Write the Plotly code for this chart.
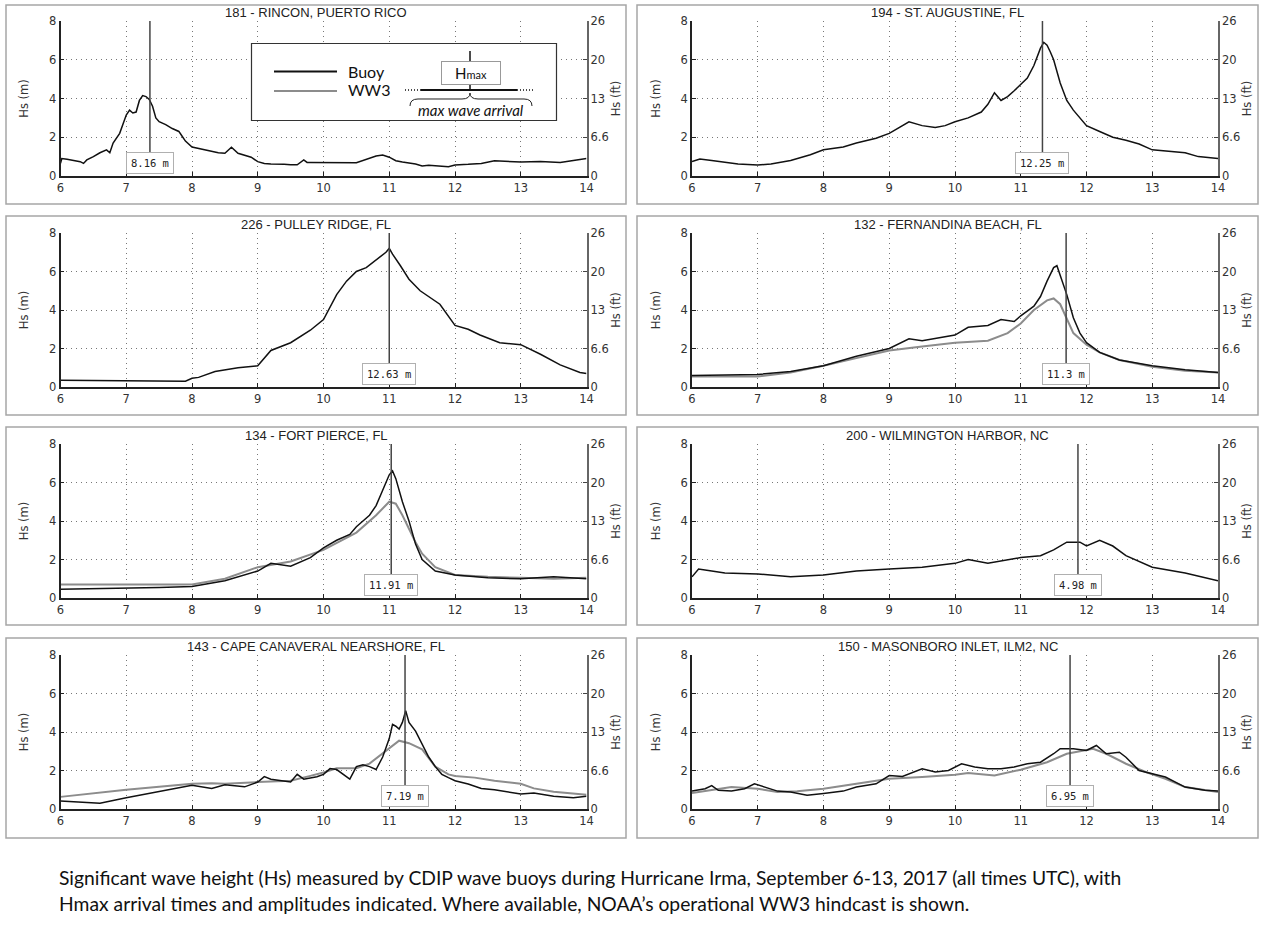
import plotly.graph_objects as go

W, H = 1265, 950

# ---------------- data ----------------
day_ticks = [6, 7, 8, 9, 10, 11, 12, 13, 14]
m_ticks = [0, 2, 4, 6, 8]
ft_labels = ["0", "6.6", "13", "20", "26"]

rincon_t = [6.0, 6.02, 6.1, 6.2, 6.3, 6.35, 6.4, 6.5, 6.6, 6.7, 6.75, 6.8, 6.9, 7.0, 7.05, 7.1, 7.15, 7.2, 7.25, 7.3,
            7.35, 7.4, 7.45, 7.5, 7.6, 7.7, 7.8, 7.85, 7.9, 8.0, 8.1, 8.2, 8.3, 8.4, 8.5, 8.6, 8.7, 8.8, 8.9, 9.0,
            9.1, 9.2, 9.3, 9.4, 9.5, 9.6, 9.7, 9.75, 9.8, 10.1, 10.5, 10.8, 10.9, 11.0, 11.1, 11.2, 11.4, 11.5, 11.6, 11.9,
            12.0, 12.2, 12.4, 12.6, 12.8, 13.0, 13.3, 13.6, 13.8, 14.0]
rincon_hs = [0.65, 0.9, 0.86, 0.8, 0.74, 0.65, 0.83, 1.0, 1.2, 1.35, 1.2, 1.7, 2.2, 3.15, 3.4, 3.25, 3.3, 3.9, 4.15, 4.1,
             3.95, 3.6, 3.0, 2.8, 2.65, 2.45, 2.3, 2.05, 1.8, 1.5, 1.43, 1.35, 1.28, 1.2, 1.17, 1.48, 1.17, 1.08, 0.97, 0.74,
             0.65, 0.62, 0.62, 0.6, 0.58, 0.58, 0.83, 0.7, 0.7, 0.69, 0.69, 1.03, 1.08, 0.97, 0.79, 0.72, 0.62, 0.52, 0.55, 0.48,
             0.57, 0.6, 0.65, 0.79, 0.74, 0.72, 0.75, 0.7, 0.8, 0.9]

staug_t = [6.0, 6.12, 6.3, 6.5, 6.7, 7.0, 7.2, 7.5, 7.8, 8.0, 8.3, 8.5, 8.8, 9.0, 9.15, 9.3, 9.5, 9.7, 9.85, 10.0,
           10.2, 10.4, 10.5, 10.6, 10.7, 10.8, 10.9, 11.0, 11.1, 11.2, 11.3, 11.35, 11.4, 11.45, 11.5, 11.6, 11.7, 11.8,
           11.9, 12.0, 12.2, 12.4, 12.6, 12.8, 13.0, 13.3, 13.5, 13.7, 14.0]
staug_hs = [0.75, 0.88, 0.8, 0.72, 0.62, 0.57, 0.62, 0.8, 1.1, 1.35, 1.5, 1.7, 1.95, 2.2, 2.5, 2.8, 2.6, 2.5, 2.6, 2.8,
            3.0, 3.3, 3.7, 4.3, 3.9, 4.1, 4.4, 4.7, 5.05, 5.7, 6.6, 6.9, 6.75, 6.4, 6.0, 4.8, 3.9, 3.4,
            3.0, 2.6, 2.3, 2.0, 1.85, 1.65, 1.35, 1.25, 1.2, 1.0, 0.9]

pulley_t = [6.0, 6.5, 7.0, 7.5, 7.9, 8.0, 8.1, 8.35, 8.7, 9.0, 9.2, 9.5, 9.8, 10.0, 10.2, 10.35, 10.5, 10.65, 10.8, 10.95,
            11.0, 11.05, 11.17, 11.3, 11.47, 11.6, 11.77, 12.0, 12.2, 12.38, 12.68, 13.0, 13.3, 13.6, 13.9, 14.0]
pulley_hs = [0.35, 0.33, 0.32, 0.3, 0.3, 0.45, 0.5, 0.8, 1.0, 1.1, 1.9, 2.3, 2.95, 3.5, 4.8, 5.5, 6.0, 6.2, 6.6, 7.0,
             7.2, 6.9, 6.3, 5.6, 5.0, 4.7, 4.3, 3.2, 3.0, 2.7, 2.3, 2.2, 1.7, 1.15, 0.75, 0.7]

fern_t = [6.0, 6.5, 7.0, 7.5, 8.0, 8.5, 9.0, 9.3, 9.5, 10.0, 10.2, 10.5, 10.7, 10.9, 11.0, 11.2, 11.3, 11.4, 11.5, 11.55,
          11.6, 11.7, 11.8, 11.9, 12.0, 12.2, 12.5, 13.0, 13.5, 14.0]
fern_hs = [0.6, 0.62, 0.65, 0.8, 1.1, 1.6, 2.0, 2.5, 2.4, 2.7, 3.1, 3.2, 3.5, 3.4, 3.7, 4.2, 4.7, 5.5, 6.2, 6.3,
           5.8, 4.8, 3.6, 2.8, 2.3, 1.8, 1.4, 1.1, 0.9, 0.75]
fern_ww3_t = [6.0, 7.0, 7.5, 8.0, 8.5, 9.0, 9.5, 10.0, 10.5, 10.8, 11.0, 11.2, 11.4, 11.5, 11.6, 11.7, 11.8, 12.0, 12.2,
              12.5, 13.0, 13.5, 14.0]
fern_ww3_hs = [0.55, 0.55, 0.75, 1.1, 1.5, 1.9, 2.1, 2.3, 2.4, 2.8, 3.3, 4.0, 4.5, 4.6, 4.3, 3.5, 2.8, 2.2, 1.8,
               1.4, 1.05, 0.85, 0.75]

fpierce_t = [6.0, 7.0, 7.5, 8.0, 8.5, 9.0, 9.2, 9.5, 9.8, 10.0, 10.2, 10.4, 10.5, 10.7, 10.8, 10.9, 11.0, 11.05, 11.1,
             11.2, 11.3, 11.4, 11.5, 11.7, 12.0, 12.5, 13.0, 13.5, 14.0]
fpierce_hs = [0.45, 0.5, 0.55, 0.6, 0.9, 1.4, 1.8, 1.65, 2.1, 2.6, 3.0, 3.3, 3.7, 4.3, 4.8, 5.6, 6.4, 6.6, 6.2,
              5.0, 4.0, 2.8, 2.0, 1.4, 1.2, 1.05, 1.0, 1.1, 1.0]
fpierce_ww3_t = [6.0, 7.0, 8.0, 8.5, 9.0, 9.5, 10.0, 10.5, 10.8, 11.0, 11.1, 11.2, 11.3, 11.4, 11.5, 11.7, 12.0, 12.5,
                 13.0, 13.5, 14.0]
fpierce_ww3_hs = [0.7, 0.7, 0.7, 1.0, 1.6, 1.9, 2.5, 3.4, 4.3, 5.0, 4.9, 4.3, 3.6, 2.9, 2.3, 1.6, 1.2, 1.1,
                  1.05, 1.0, 1.05]

wilm_t = [6.0, 6.1, 6.3, 6.5, 7.0, 7.5, 8.0, 8.5, 9.0, 9.5, 10.0, 10.2, 10.5, 11.0, 11.3, 11.5, 11.7, 11.9, 12.0, 12.2,
          12.4, 12.6, 13.0, 13.5, 14.0]
wilm_hs = [1.1, 1.5, 1.4, 1.3, 1.25, 1.1, 1.2, 1.4, 1.5, 1.6, 1.8, 2.0, 1.8, 2.1, 2.2, 2.5, 2.9, 2.9, 2.7, 3.0,
           2.7, 2.2, 1.6, 1.3, 0.9]

cape_t = [6.0, 6.5, 6.6, 7.0, 7.5, 7.8, 8.0, 8.3, 8.5, 8.8, 9.0, 9.1, 9.2, 9.5, 9.6, 9.7, 9.9, 10.0, 10.1, 10.2,
          10.3, 10.4, 10.5, 10.6, 10.7, 10.8, 10.9, 11.0, 11.05, 11.1, 11.15, 11.2, 11.25, 11.3, 11.4, 11.5, 11.6, 11.7,
          11.8, 11.9, 12.0, 12.2, 12.4, 12.6, 12.8, 13.0, 13.2, 13.5, 13.8, 14.0]
cape_hs = [0.42, 0.34, 0.3, 0.58, 0.9, 1.07, 1.23, 1.07, 1.26, 1.15, 1.4, 1.68, 1.55, 1.4, 1.8, 1.55, 1.68, 1.8, 2.1, 2.05,
           1.8, 1.55, 2.2, 2.3, 2.2, 2.05, 2.7, 3.66, 4.4, 4.3, 4.15, 4.5, 5.1, 4.5, 4.05, 3.4, 2.7, 2.2,
           1.8, 1.63, 1.47, 1.3, 1.07, 1.0, 0.87, 0.78, 0.83, 0.66, 0.58, 0.66]
cape_ww3_t = [6.0, 6.5, 7.0, 7.5, 8.0, 8.3, 8.5, 9.0, 9.5, 9.8, 10.0, 10.2, 10.5, 10.7, 11.0, 11.15, 11.3, 11.5, 11.7,
              11.9, 12.0, 12.3, 12.6, 13.0, 13.2, 13.5, 14.0]
cape_ww3_hs = [0.63, 0.83, 1.0, 1.15, 1.31, 1.34, 1.31, 1.4, 1.47, 1.72, 1.9, 2.12, 2.12, 2.36, 3.17, 3.55, 3.42, 3.1, 2.2,
               1.8, 1.72, 1.63, 1.47, 1.31, 1.07, 0.9, 0.74]

mason_t = [6.0, 6.2, 6.3, 6.4, 6.6, 6.8, 6.95, 7.1, 7.3, 7.5, 7.75, 8.0, 8.3, 8.5, 8.8, 9.0, 9.2, 9.5, 9.7, 9.9,
           10.1, 10.3, 10.5, 10.7, 10.9, 11.1, 11.3, 11.5, 11.6, 11.8, 12.0, 12.15, 12.3, 12.5, 12.6, 12.8, 13.0, 13.2,
           13.5, 13.8, 14.0]
mason_hs = [0.93, 1.05, 1.22, 0.97, 0.93, 1.05, 1.31, 1.14, 0.93, 0.88, 0.71, 0.8, 0.93, 1.14, 1.31, 1.74, 1.69, 2.09, 1.92, 2.0,
            2.35, 2.18, 2.09, 2.09, 2.18, 2.35, 2.43, 2.87, 3.13, 3.13, 3.04, 3.3, 2.87, 2.95, 2.69, 2.0, 1.83, 1.66,
            1.14, 0.97, 0.93]
mason_ww3_t = [6.0, 6.3, 6.6, 7.0, 7.3, 7.6, 8.0, 8.5, 9.0, 9.5, 10.0, 10.2, 10.6, 11.0, 11.4, 11.7, 12.0, 12.1, 12.3,
               12.6, 12.9, 13.2, 13.5, 14.0]
mason_ww3_hs = [0.83, 0.97, 1.14, 1.05, 0.88, 0.92, 1.05, 1.31, 1.57, 1.66, 1.78, 1.87, 1.74, 2.04, 2.43, 2.87, 3.04, 3.13, 2.87,
                2.35, 1.92, 1.57, 1.14, 0.88]

station_names = ["181 - RINCON, PUERTO RICO", "194 - ST. AUGUSTINE, FL",
                 "226 - PULLEY RIDGE, FL", "132 - FERNANDINA BEACH, FL",
                 "134 - FORT PIERCE, FL", "200 - WILMINGTON HARBOR, NC",
                 "143 - CAPE CANAVERAL NEARSHORE, FL", "150 - MASONBORO INLET, ILM2, NC"]
hmax_day = [7.36, 11.33, 11.0, 11.69, 11.03, 11.87, 11.24, 11.75]
hmax_label = ["8.16 m", "12.25 m", "12.63 m", "11.3 m", "11.91 m", "4.98 m", "7.19 m", "6.95 m"]
label_level = 0.68

buoy_series = [(rincon_t, rincon_hs), (staug_t, staug_hs), (pulley_t, pulley_hs), (fern_t, fern_hs),
               (fpierce_t, fpierce_hs), (wilm_t, wilm_hs), (cape_t, cape_hs), (mason_t, mason_hs)]
ww3_series = [None, None, None, (fern_ww3_t, fern_ww3_hs), (fpierce_ww3_t, fpierce_ww3_hs), None,
              (cape_ww3_t, cape_ww3_hs), (mason_ww3_t, mason_ww3_hs)]

caption_lines = ["Significant wave height (Hs) measured by CDIP wave buoys during Hurricane Irma, September 6-13, 2017 (all times UTC), with",
                 "Hmax arrival times and amplitudes indicated. Where available, NOAA\u2019s operational WW3 hindcast is shown."]

# ---------------- layout geometry (pixels) ----------------
col_x = [(60.5, 586.5), (692, 1218)]
row_y = [(21, 176), (233, 387), (444, 598), (655, 809)]
box_x = [(6, 626), (637, 1258)]
box_y = [(5, 204), (216, 415), (427, 625), (638, 838)]


def px(x):
    return x / W


def py(y):
    return 1 - y / H


TICK_FONT = dict(family="DejaVu Sans", size=11.5, color="#333")
AX_TITLE_FONT = dict(family="DejaVu Sans", size=11.5, color="#333")
BUOY_COLOR = "#111111"
WW3_COLOR = "#8c8c8c"
GRID_DASH = "1px,4px"

fig = go.Figure()
shapes = []
annotations = []
layout = {}

for i in range(8):
    r, c = divmod(i, 2)
    n = i + 1
    n2 = i + 9
    xa = "x" if n == 1 else f"x{n}"
    ya = "y" if n == 1 else f"y{n}"
    ya2 = f"y{n2}"

    # panel frame
    shapes.append(dict(type="rect", xref="paper", yref="paper", x0=px(box_x[c][0]), x1=px(box_x[c][1]),
                       y0=py(box_y[r][1]), y1=py(box_y[r][0]), line=dict(color="#a6a6a6", width=1.5),
                       layer="below"))

    t, hs = buoy_series[i]
    if ww3_series[i] is not None:
        wt, whs = ww3_series[i]
        fig.add_trace(go.Scatter(x=wt, y=whs, mode="lines", xaxis=xa, yaxis=ya, showlegend=False,
                                 line=dict(color=WW3_COLOR, width=2), hoverinfo="skip"))
    fig.add_trace(go.Scatter(x=t, y=hs, mode="lines", xaxis=xa, yaxis=ya, showlegend=False,
                             line=dict(color=BUOY_COLOR, width=1.5)))
    # empty trace to activate right-hand (ft) axis
    fig.add_trace(go.Scatter(x=[None], y=[None], xaxis=xa, yaxis=ya2, showlegend=False, hoverinfo="skip"))

    xdom = [px(col_x[c][0]), px(col_x[c][1])]
    ydom = [py(row_y[r][1]), py(row_y[r][0])]
    xkey = "xaxis" if n == 1 else f"xaxis{n}"
    ykey = "yaxis" if n == 1 else f"yaxis{n}"
    layout[xkey] = dict(domain=xdom, anchor=ya, range=[6, 14], tickvals=day_ticks, automargin=False,
                        showgrid=True, gridcolor="#777", griddash=GRID_DASH, gridwidth=1,
                        showline=True, linecolor="#222", linewidth=1.5, zeroline=False,
                        ticks="inside", ticklen=4, tickcolor="#222", tickfont=TICK_FONT,
                        fixedrange=True)
    layout[ykey] = dict(domain=ydom, anchor=xa, range=[0, 8], tickvals=m_ticks, automargin=False,
                        showgrid=True, gridcolor="#777", griddash=GRID_DASH, gridwidth=1,
                        showline=True, linecolor="#222", linewidth=1.5, zeroline=False,
                        ticks="inside", ticklen=4, tickcolor="#222", tickfont=TICK_FONT,
                        title=dict(text="Hs (m)", font=AX_TITLE_FONT, standoff=18),
                        fixedrange=True)
    layout[f"yaxis{n2}"] = dict(overlaying=ya, anchor=xa, side="right", range=[0, 8], tickvals=m_ticks,
                                ticktext=ft_labels, showgrid=False, zeroline=False, automargin=False,
                                showline=True, linecolor="#666", linewidth=1.5,
                                ticks="inside", ticklen=4, tickcolor="#444", tickfont=TICK_FONT,
                                title=dict(text="Hs (ft)", font=AX_TITLE_FONT, standoff=4),
                                fixedrange=True)

    # station title
    annotations.append(dict(xref="paper", yref="paper", x=px((box_x[c][0] + box_x[c][1]) / 2),
                            y=py(row_y[r][0] - 9), text=station_names[i], showarrow=False,
                            xanchor="center", yanchor="middle",
                            font=dict(family="Liberation Sans Narrow, Liberation Sans, Arial, sans-serif", size=13,
                                      color="#222")))
    # Hmax marker line + label
    shapes.append(dict(type="line", xref=xa, yref=ya, x0=hmax_day[i], x1=hmax_day[i], y0=label_level, y1=8,
                       line=dict(color="#444", width=1.5), layer="above"))
    annotations.append(dict(xref=xa, yref=ya, x=hmax_day[i], y=label_level, text=hmax_label[i], showarrow=False,
                            xanchor="center", yanchor="middle", bgcolor="white", bordercolor="#b0b0b0",
                            borderwidth=1, borderpad=4,
                            font=dict(family="DejaVu Sans Mono", size=10.5, color="#222")))

# ---------------- legend inset (panel 1) ----------------
shapes.append(dict(type="rect", xref="paper", yref="paper", x0=px(251.5), x1=px(556.5), y0=py(120.5), y1=py(43.5),
                   line=dict(color="#333", width=1.2), fillcolor="white", layer="above"))
shapes.append(dict(type="line", xref="paper", yref="paper", x0=px(274), x1=px(337), y0=py(71.5), y1=py(71.5),
                   line=dict(color=BUOY_COLOR, width=1.8), layer="above"))
shapes.append(dict(type="line", xref="paper", yref="paper", x0=px(274), x1=px(337), y0=py(91), y1=py(91),
                   line=dict(color=WW3_COLOR, width=2), layer="above"))
LEG_FONT = dict(family="Lato, Open Sans, sans-serif", size=16, color="#111")
annotations.append(dict(xref="paper", yref="paper", x=px(346), y=py(71), text="Buoy", showarrow=False,
                        xanchor="left", yanchor="middle", font=LEG_FONT))
annotations.append(dict(xref="paper", yref="paper", x=px(346), y=py(90), text="WW3", showarrow=False,
                        xanchor="left", yanchor="middle", font=LEG_FONT))
# Hmax illustration
shapes.append(dict(type="line", xref="paper", yref="paper", x0=px(470), x1=px(470), y0=py(51), y1=py(90),
                   line=dict(color="#111", width=1.5), layer="above"))
shapes.append(dict(type="line", xref="paper", yref="paper", x0=px(421), x1=px(517), y0=py(90), y1=py(90),
                   line=dict(color="#111", width=2), layer="above"))
shapes.append(dict(type="line", xref="paper", yref="paper", x0=px(405), x1=px(421), y0=py(90), y1=py(90),
                   line=dict(color="#111", width=1.5, dash="1px,2px"), layer="above"))
shapes.append(dict(type="line", xref="paper", yref="paper", x0=px(517), x1=px(534), y0=py(90), y1=py(90),
                   line=dict(color="#111", width=1.5, dash="1px,2px"), layer="above"))


def brace_path(pts):
    out = []
    for cmd, coords in pts:
        s = " ".join(f"{px(a):.5f},{py(b):.5f}" for a, b in coords)
        out.append(f"{cmd} {s}")
    return " ".join(out)


brace = brace_path([("M", [(410, 106)]), ("Q", [(410, 99), (418, 99)]), ("L", [(462, 99)]),
                    ("Q", [(470, 99), (470, 93)]), ("Q", [(470, 99), (478, 99)]), ("L", [(524, 99)]),
                    ("Q", [(532, 99), (532, 106)])])
shapes.append(dict(type="path", xref="paper", yref="paper", path=brace, line=dict(color="#222", width=1),
                   layer="above"))
annotations.append(dict(xref="paper", yref="paper", x=px(470.5), y=py(73.5),
                        text="H<span style='font-size:11px'>max</span>",
                        showarrow=False, xanchor="center", yanchor="middle", bgcolor="white",
                        bordercolor="#999", borderwidth=1, borderpad=2, width=54,
                        font=dict(family="Lato, Open Sans, sans-serif", size=15, color="#111")))
annotations.append(dict(xref="paper", yref="paper", x=px(471), y=py(110), text="<i>max wave arrival</i>",
                        showarrow=False, xanchor="center", yanchor="middle",
                        font=dict(family="Lato, Open Sans, sans-serif", size=15, color="#111")))

# ---------------- caption ----------------
for k, line in enumerate(caption_lines):
    annotations.append(dict(xref="paper", yref="paper", x=px(57), y=py(877 + 26 * k), text=line, showarrow=False,
                            xanchor="left", yanchor="middle",
                            font=dict(family="Lato, Open Sans, sans-serif", size=19.3, color="#111")))

fig.update_layout(width=W, height=H, margin=dict(l=0, r=0, t=0, b=0, autoexpand=False), paper_bgcolor="white",
                  plot_bgcolor="white", showlegend=False, shapes=shapes, annotations=annotations, **layout)

fig.write_html("out.html", config={"displayModeBar": False},
               post_script="document.body.style.margin='0';document.body.style.padding='0';")
